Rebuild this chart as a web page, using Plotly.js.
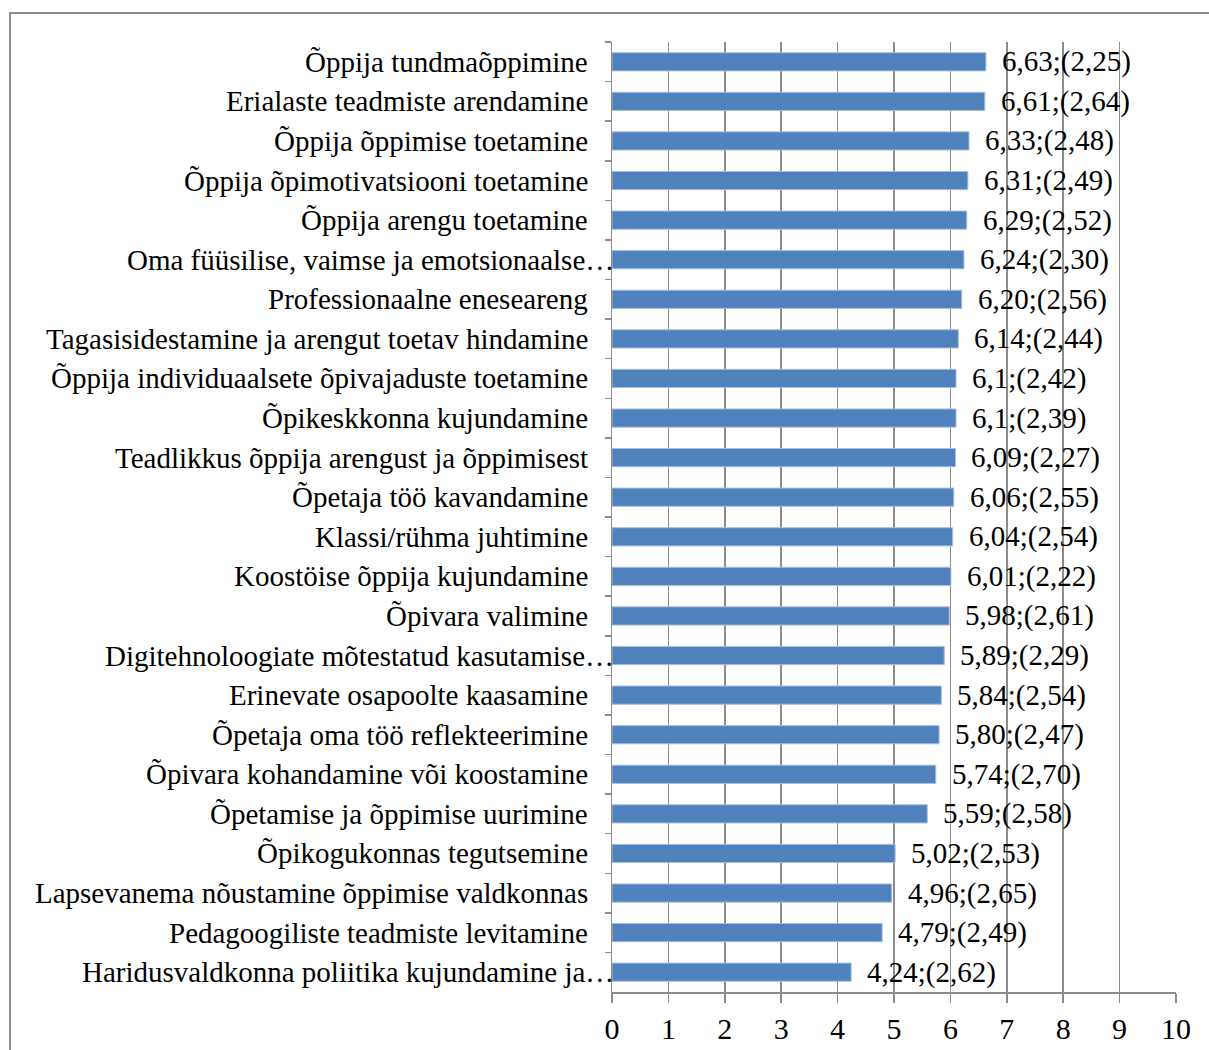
<!DOCTYPE html>
<html>
<head>
<meta charset="utf-8">
<script src="https://cdn.plot.ly/plotly-3.0.1.min.js"></script>
<style>
  html, body { margin: 0; padding: 0; background: #ffffff; }
  #wrap { position: relative; width: 1209px; height: 1050px; overflow: hidden; }
  #frame { position: absolute; left: 9px; top: 12px; width: 1400px; height: 1200px;
           border-left: 2px solid #8c8c8c; border-top: 2px solid #8c8c8c; box-sizing: border-box; }
  #chart { position: absolute; left: 0; top: 0; width: 1209px; height: 1050px; }
</style>
</head>
<body>
<div id="wrap">
  <div id="frame"></div>
  <div id="chart"></div>
</div>
<script>
const categories = [
  "Õppija tundmaõppimine",
  "Erialaste teadmiste arendamine",
  "Õppija õppimise toetamine",
  "Õppija õpimotivatsiooni toetamine",
  "Õppija arengu toetamine",
  "Oma füüsilise, vaimse ja emotsionaalse…",
  "Professionaalne eneseareng",
  "Tagasisidestamine ja arengut toetav hindamine",
  "Õppija individuaalsete õpivajaduste toetamine",
  "Õpikeskkonna kujundamine",
  "Teadlikkus õppija arengust ja õppimisest",
  "Õpetaja töö kavandamine",
  "Klassi/rühma juhtimine",
  "Koostöise õppija kujundamine",
  "Õpivara valimine",
  "Digitehnoloogiate mõtestatud kasutamise…",
  "Erinevate osapoolte kaasamine",
  "Õpetaja oma töö reflekteerimine",
  "Õpivara kohandamine või koostamine",
  "Õpetamise ja õppimise uurimine",
  "Õpikogukonnas tegutsemine",
  "Lapsevanema nõustamine õppimise valdkonnas",
  "Pedagoogiliste teadmiste levitamine",
  "Haridusvaldkonna poliitika kujundamine ja…"
];
const means = [6.63, 6.61, 6.33, 6.31, 6.29, 6.24, 6.20, 6.14, 6.1, 6.1, 6.09, 6.06,
               6.04, 6.01, 5.98, 5.89, 5.84, 5.80, 5.74, 5.59, 5.02, 4.96, 4.79, 4.24];
const meanText = ["6,63","6,61","6,33","6,31","6,29","6,24","6,20","6,14","6,1","6,1","6,09","6,06",
                  "6,04","6,01","5,98","5,89","5,84","5,80","5,74","5,59","5,02","4,96","4,79","4,24"];
const sdText = ["2,25","2,64","2,48","2,49","2,52","2,30","2,56","2,44","2,42","2,39","2,27","2,55",
                "2,54","2,22","2,61","2,29","2,54","2,47","2,70","2,58","2,53","2,65","2,49","2,62"];
const xTicks = [0,1,2,3,4,5,6,7,8,9,10];

const FONT = "'Liberation Serif', 'Times New Roman', serif";
const GRID = "#8c8c8c";
const FS = 29;

const trace = {
  type: "bar",
  orientation: "h",
  x: means,
  y: categories,
  marker: { color: "#4f81bd", line: { color: "#a7c0de", width: 1 } },
  hoverinfo: "skip"
};

const annotations = [];
categories.forEach((c, i) => {
  annotations.push({
    xref: "paper", yref: "y", x: 0, y: c,
    text: c, showarrow: false, xanchor: "right", yanchor: "middle",
    xshift: c.endsWith("…") ? 4 : -22,
    font: { family: FONT, size: FS, color: "#000000" }
  });
  annotations.push({
    xref: "x", yref: "y", x: means[i], y: c,
    text: meanText[i] + ";(" + sdText[i] + ")", showarrow: false,
    xanchor: "left", yanchor: "middle", xshift: 14,
    font: { family: FONT, size: FS, color: "#000000" }
  });
});

const layout = {
  width: 1209, height: 1050,
  margin: { l: 612, r: 33, t: 42, b: 58, pad: 0 },
  paper_bgcolor: "rgba(0,0,0,0)",
  plot_bgcolor: "rgba(0,0,0,0)",
  showlegend: false,
  bargap: 0.54,
  font: { family: FONT, size: FS, color: "#000000" },
  xaxis: {
    range: [0, 10], tickvals: xTicks, ticktext: xTicks.map(String),
    showgrid: true, gridcolor: GRID, gridwidth: 1.5,
    zeroline: false,
    showline: true, linecolor: GRID, linewidth: 1.5,
    ticks: "outside", ticklen: 9, tickcolor: GRID, tickwidth: 1.5,
    tickfont: { family: FONT, size: 30, color: "#000000" },
    fixedrange: true
  },
  yaxis: {
    type: "category", autorange: "reversed",
    showticklabels: false,
    showgrid: false, zeroline: false,
    showline: true, linecolor: GRID, linewidth: 1.5,
    ticks: "outside", ticklen: 6, tickcolor: GRID, tickwidth: 1.5,
    tickson: "boundaries",
    fixedrange: true
  },
  annotations: annotations
};

Plotly.newPlot("chart", [trace], layout, { displayModeBar: false, staticPlot: true });
</script>
</body>
</html>
